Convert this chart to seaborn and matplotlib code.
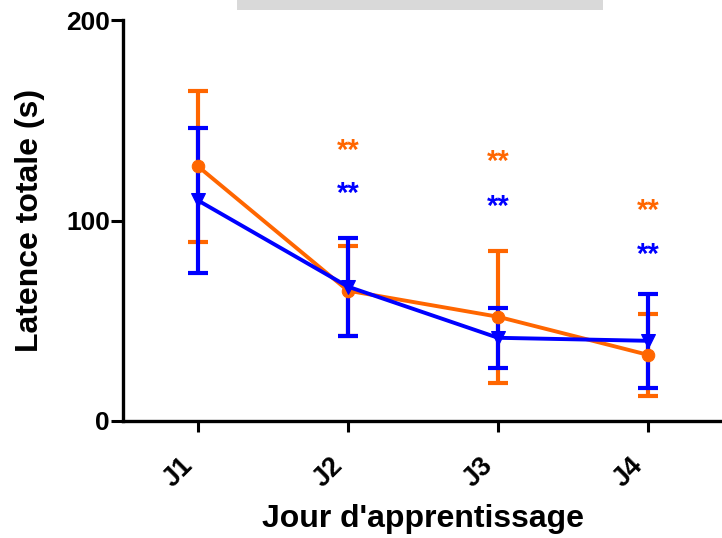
import numpy as np
import pandas as pd
import matplotlib
matplotlib.use("Agg")
import matplotlib.pyplot as plt
import seaborn as sns
from matplotlib.patches import Rectangle

days = ["J1", "J2", "J3", "J4"]
orange_mean = [127, 65, 52, 33]
orange_err = [37.5, 22.5, 33, 20.5]
blue_mean = [110, 67, 41.5, 40]
blue_err = [36, 24.5, 15, 23.5]
orange_star_y = [None, 134.5, 129, 105]
blue_star_y = [None, 113, 107, 83]
yticks = [0, 100, 200]

ORANGE = "#FF6600"
BLUE = "#0000FF"

sns.set_style("ticks")
plt.rcParams["font.family"] = ["Liberation Sans", "DejaVu Sans"]
plt.rcParams["font.weight"] = "bold"
plt.rcParams["text.color"] = "black"
plt.rcParams["axes.labelcolor"] = "black"
plt.rcParams["xtick.color"] = "black"
plt.rcParams["ytick.color"] = "black"

fig = plt.figure(figsize=(7.22, 5.38), dpi=100)
ax = fig.add_axes([123 / 722, 117 / 538, 600 / 722, 401 / 538])

pos = np.arange(len(days))
df = pd.DataFrame({
    "pos": np.concatenate([pos, pos]),
    "mean": orange_mean + blue_mean,
    "err": orange_err + blue_err,
    "group": ["orange"] * 4 + ["blue"] * 4,
})

for grp, color, marker, msize in [("orange", ORANGE, "o", 9), ("blue", BLUE, "v", 10)]:
    sub = df[df["group"] == grp]
    ax.errorbar(sub["pos"], sub["mean"], yerr=sub["err"], fmt="none",
                ecolor=color, elinewidth=3, capsize=7.5, capthick=3, zorder=3)
    sns.lineplot(data=sub, x="pos", y="mean", ax=ax, color=color, lw=2.8,
                 marker=marker, markersize=msize, markeredgecolor=color,
                 markerfacecolor=color, zorder=4, legend=False)

for i in range(len(days)):
    if orange_star_y[i] is not None:
        ax.text(pos[i], orange_star_y[i], "**", color=ORANGE, fontsize=21,
                fontweight="bold", ha="center", va="center")
    if blue_star_y[i] is not None:
        ax.text(pos[i], blue_star_y[i], "**", color=BLUE, fontsize=21,
                fontweight="bold", ha="center", va="center")

ax.set_xlim(-0.5, 3.5)
ax.set_ylim(0, 200)
ax.set_yticks(yticks)
ax.set_xticks(pos)
ax.set_xticklabels(days, rotation=45, ha="right", va="top",
                   fontsize=19.5, fontweight="bold")
ax.set_yticklabels([str(v) for v in yticks], fontsize=19, fontweight="bold")
ax.tick_params(axis="y", length=8.5, width=2.2, pad=1, color="black", labelcolor="black")
ax.tick_params(axis="x", length=8, width=2.2, pad=15, color="black", labelcolor="black")
for s in ["left", "bottom"]:
    ax.spines[s].set_linewidth(2.4)
    ax.spines[s].set_color("black")
for s in ["top", "right"]:
    ax.spines[s].set_visible(False)

ax.set_xlabel("Jour d'apprentissage", fontsize=23, fontweight="bold", labelpad=8, color="black")
ax.set_ylabel("Latence totale (s)", fontsize=23, fontweight="bold", labelpad=15, color="black")

fig.patches.append(Rectangle((237 / 722, 1 - 10 / 538), 366 / 722, 10 / 538,
                             transform=fig.transFigure, facecolor="#d9d9d9",
                             edgecolor="none"))

fig.savefig("out.png", dpi=100)
